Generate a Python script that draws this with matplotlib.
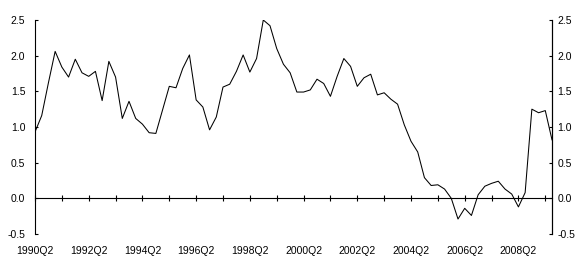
import numpy as np
import matplotlib
matplotlib.use('Agg')
import matplotlib.pyplot as plt

plt.rcParams['font.family'] = ['Liberation Sans', 'DejaVu Sans']

# quarterly series, 1990Q2 .. 2009Q3
start_year = 1990
values = [0.93, 1.16, 1.62, 2.06, 1.84, 1.70, 1.95, 1.76, 1.71, 1.78,
          1.37, 1.92, 1.70, 1.12, 1.36, 1.12, 1.04, 0.92, 0.91, 1.24,
          1.57, 1.55, 1.82, 2.01, 1.38, 1.28, 0.96, 1.14, 1.56, 1.60,
          1.78, 2.01, 1.77, 1.96, 2.50, 2.42, 2.10, 1.88, 1.76, 1.49,
          1.49, 1.52, 1.67, 1.61, 1.43, 1.71, 1.96, 1.85, 1.57, 1.69,
          1.74, 1.45, 1.48, 1.39, 1.32, 1.03, 0.80, 0.65, 0.29, 0.18,
          0.19, 0.13, 0.00, -0.29, -0.14, -0.24, 0.05, 0.17, 0.21, 0.24,
          0.13, 0.06, -0.12, 0.08, 1.25, 1.20, 1.23, 0.82]
y_ticks = [-0.5, 0.0, 0.5, 1.0, 1.5, 2.0, 2.5]

x = np.arange(len(values))
label_pos = x[::8]
label_txt = ['%dQ2' % (start_year + k // 4) for k in label_pos]

fig = plt.figure(figsize=(5.86, 2.65), dpi=100)
ax = fig.add_axes([35/586, 1-234/265, (552-35)/586, (234-20)/265])

ax.plot(x, values, color='black', lw=0.75)

ax.set_xlim(0, len(values) - 1)
ax.set_ylim(-0.5, 2.5)
ax.set_yticks(y_ticks)
ax.set_yticklabels(['%.1f' % v for v in y_ticks])

# zero line carries the x ticks
ax.spines['top'].set_visible(False)
ax.spines['bottom'].set_position(('data', 0))
for s in ['bottom', 'left', 'right']:
	ax.spines[s].set_linewidth(0.8)
ax.set_xticks(x[::4])
ax.tick_params(axis='x', direction='inout', length=4.5, width=0.8, labelbottom=False)
ax.tick_params(axis='y', direction='in', length=2.5, width=0.8, pad=7, labelsize=7.5)

# right hand scale
ax2 = ax.twinx()
ax2.set_ylim(ax.get_ylim())
ax2.set_yticks(y_ticks)
ax2.set_yticklabels(['%.1f' % v for v in y_ticks])
for s in ['top', 'bottom', 'left']:
	ax2.spines[s].set_visible(False)
ax2.spines['right'].set_linewidth(0.8)
ax2.tick_params(axis='y', direction='in', length=2.5, width=0.8, pad=4, labelsize=7.5)

# labels along the bottom edge
sec = ax.secondary_xaxis('bottom')
sec.set_xticks(label_pos)
sec.set_xticklabels(label_txt)
sec.spines['bottom'].set_visible(False)
sec.tick_params(axis='x', length=0, pad=9, labelsize=7.5)

fig.savefig('out.png', dpi=100)
